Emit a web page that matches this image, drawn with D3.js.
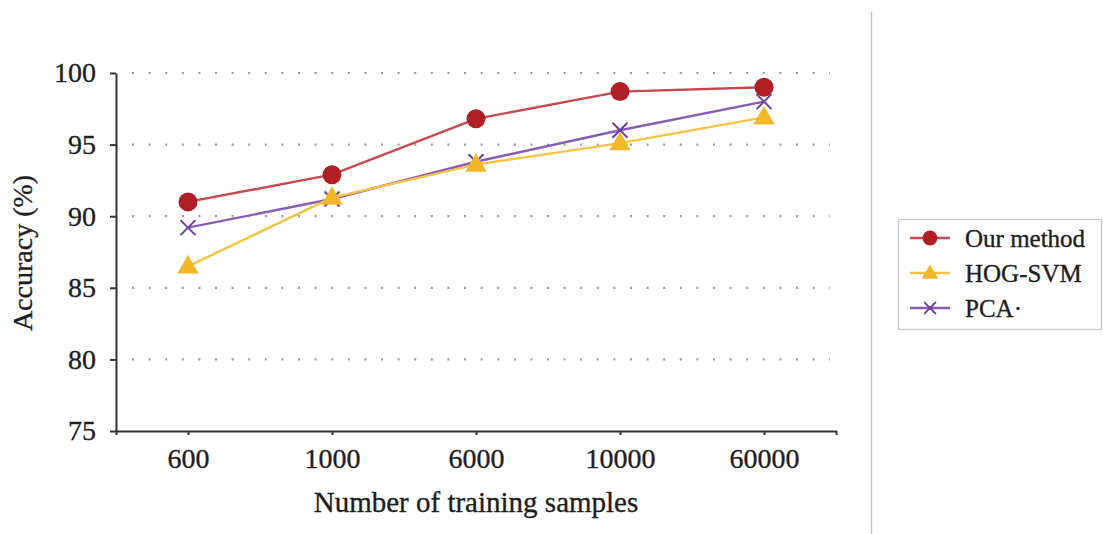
<!DOCTYPE html>
<html><head><meta charset="utf-8">
<script src="https://cdn.jsdelivr.net/npm/d3@7"></script>
<style>
body{margin:0;background:#fff;}
svg{display:block;}
text{font-family:"Liberation Serif","DejaVu Serif",serif;fill:#1e1e1e;stroke:#1e1e1e;stroke-width:0.35px;}
</style></head>
<body>
<svg id="chart" width="1103" height="534"></svg>
<script>
const categories = ["600","1000","6000","10000","60000"];
const ourMethod = [91.0, 92.9, 96.8, 98.7, 99.0];
const hogSvm    = [86.5, 91.3, 93.6, 95.1, 96.9];
const pca       = [89.2, 91.2, 93.8, 96.0, 98.0];
const yTicks = [75, 80, 85, 90, 95, 100];
const gridTicks = [80, 85, 90, 95, 100];
const seriesNames = ["Our method", "HOG-SVM", "PCA\u00b7"];

const series = [
  {name: seriesNames[0], values: ourMethod, line:"#c8494b", fill:"#b01f23", marker:"circle"},
  {name: seriesNames[1], values: hogSvm, line:"#f6c444", fill:"#f3b82a", marker:"triangle"},
  {name: seriesNames[2], values: pca, line:"#8a5cb8", fill:"#6b3fa0", marker:"cross"}
];

const svg = d3.select("#chart");
const mLeft = 116, mRight = 836, mTop = 73, mBottom = 431;

const x = d3.scalePoint().domain(categories).range([mLeft, mRight]).padding(0.5);
const y = d3.scaleLinear().domain([75, 100]).range([mBottom, mTop]);

// separator line
svg.append("line").attr("x1", 871.5).attr("x2", 871.5).attr("y1", 12).attr("y2", 534)
  .attr("stroke", "#bdbdbd").attr("stroke-width", 1.3);

// grid
svg.append("g").selectAll("line").data(gridTicks).join("line")
  .attr("x1", 132).attr("x2", 830)
  .attr("y1", d => y(d)).attr("y2", d => y(d))
  .attr("stroke", "#9a9a9a").attr("stroke-width", 2.2)
  .attr("stroke-dasharray", "2,14.6");

// axes
const yAxis = svg.append("g").attr("transform", `translate(${mLeft},0)`)
  .call(d3.axisLeft(y).tickValues(yTicks).tickSize(6).tickPadding(14).tickSizeOuter(0));
const xAxis = svg.append("g").attr("transform", `translate(0,${mBottom})`)
  .call(d3.axisBottom(x).tickSize(4).tickPadding(13).tickSizeOuter(4));
[yAxis, xAxis].forEach(g => {
  g.selectAll("path,line").attr("stroke", "#333").attr("stroke-width", 2);
  g.selectAll("text").attr("font-size", 28).attr("fill", "#1e1e1e")
    .attr("font-family", "'Liberation Serif','DejaVu Serif',serif");
});
xAxis.selectAll("text").attr("dy", "0.7em");

// axis titles
svg.append("text").attr("x", 476).attr("y", 512).attr("text-anchor", "middle")
  .attr("font-size", 29).text("Number of training samples");
svg.append("text").attr("transform", "translate(32,253) rotate(-90)")
  .attr("text-anchor", "middle").attr("font-size", 28).text("Accuracy (%)");

function drawMarker(g, type, cx, cy, s) {
  if (type === "circle") {
    g.append("circle").attr("cx", cx).attr("cy", cy).attr("r", 9.5 * s).attr("fill", "#b01f23");
  } else if (type === "triangle") {
    const sym = d3.symbol().type(d3.symbolTriangle).size(200 * s * s);
    g.append("path").attr("d", sym()).attr("transform", `translate(${cx},${cy + 1})`).attr("fill", "#f3b82a");
  } else {
    const r = 7.5 * s;
    g.append("path").attr("d", `M${cx - r},${cy - r}L${cx + r},${cy + r}M${cx - r},${cy + r}L${cx + r},${cy - r}`)
      .attr("stroke", "#6b3fa0").attr("stroke-width", 2).attr("fill", "none");
  }
}

const line = d3.line().x((d, i) => x(categories[i])).y(d => y(d));
[series[2], series[1], series[0]].forEach(s => {
  const g = svg.append("g");
  g.append("path").attr("d", line(s.values)).attr("fill", "none")
    .attr("stroke", s.line).attr("stroke-width", 2.4);
  s.values.forEach((v, i) => drawMarker(g, s.marker, x(categories[i]), y(v), 1));
});

// legend
const lg = svg.append("g");
lg.append("rect").attr("x", 898.5).attr("y", 219.5).attr("width", 203).attr("height", 110)
  .attr("fill", "#fff").attr("stroke", "#c8c8c8").attr("stroke-width", 1.3);
const ly = [238, 273, 308];
series.forEach((s, i) => {
  lg.append("line").attr("x1", 910).attr("x2", 950).attr("y1", ly[i]).attr("y2", ly[i])
    .attr("stroke", s.line).attr("stroke-width", 2.4);
  drawMarker(lg, s.marker, 930, ly[i], 0.78);
  lg.append("text").attr("x", 965).attr("y", ly[i]).attr("dy", "0.35em")
    .attr("font-size", 25).text(s.name);
});
</script>
</body></html>
